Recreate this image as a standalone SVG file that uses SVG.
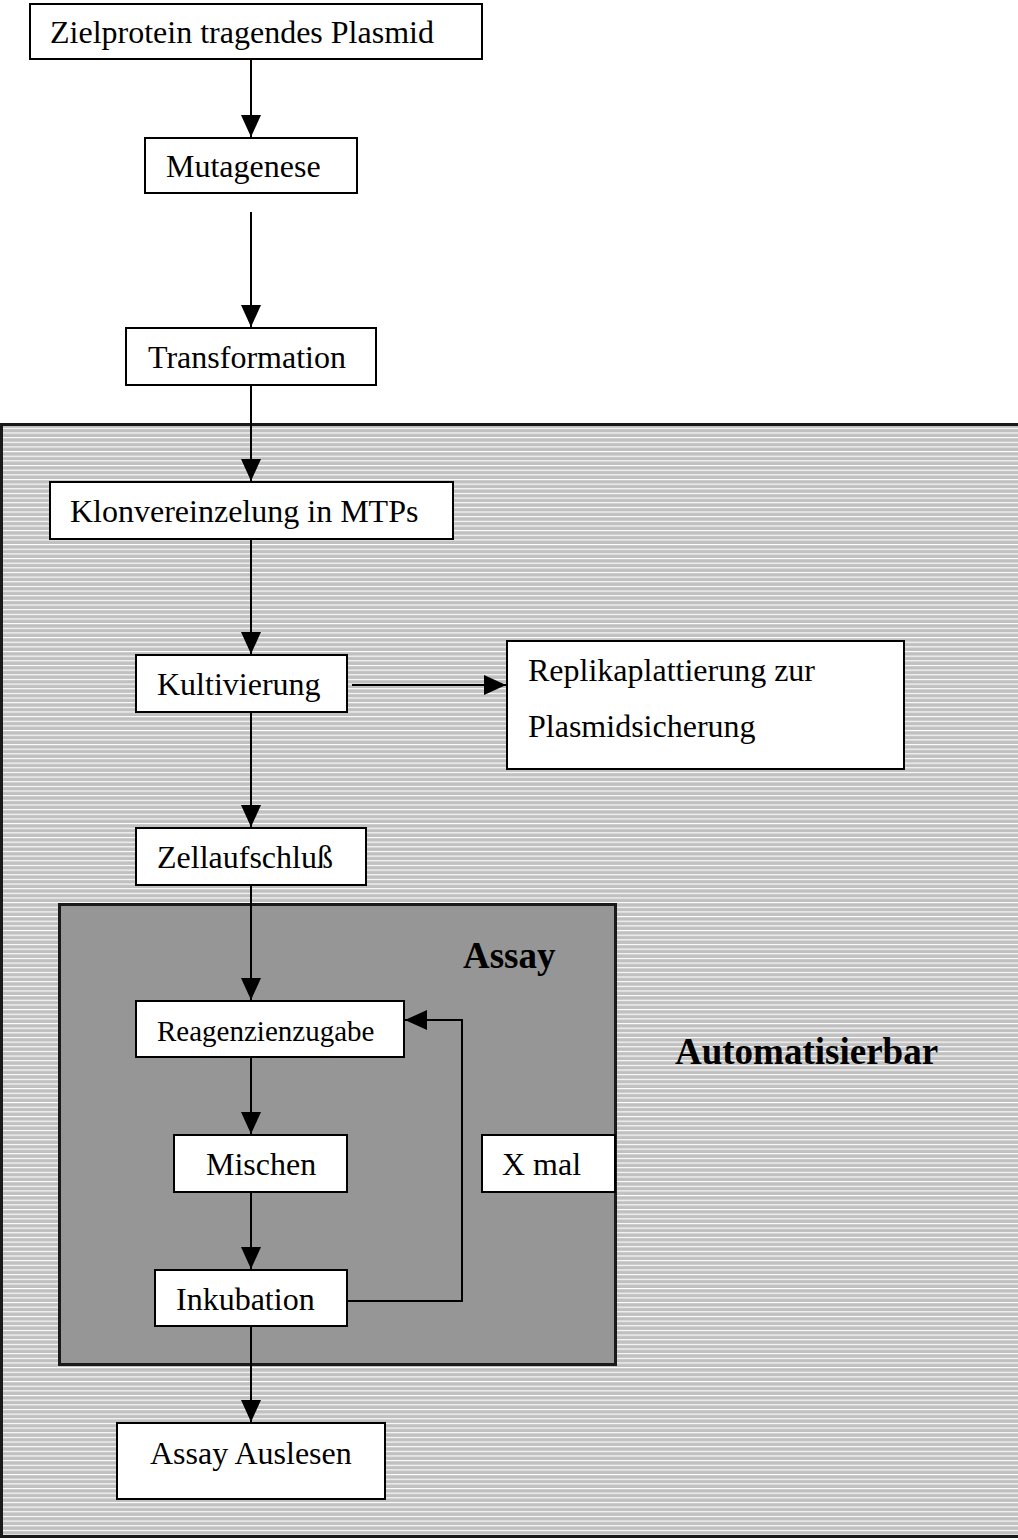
<svg xmlns="http://www.w3.org/2000/svg" width="1018" height="1540" viewBox="0 0 1018 1540">
<defs>
<pattern id="stripes" patternUnits="userSpaceOnUse" x="0" y="425" width="10" height="4.65">
<rect x="0" y="0" width="10" height="4.65" fill="#c0c0c0"/>
<rect x="0" y="2.8" width="10" height="1.1" fill="#ffffff"/>
</pattern>
<marker id="ah" markerUnits="userSpaceOnUse" markerWidth="22" markerHeight="22" viewBox="0 0 22 22" refX="22" refY="11" orient="auto">
<polygon points="0,1 22,11 0,21" fill="#000"/>
</marker>
<style>
.box{fill:#fff;stroke:#000;stroke-width:2}
.t{font-family:"Liberation Serif","Times New Roman",serif;font-size:32px;fill:#000}
.b{font-family:"Liberation Serif","Times New Roman",serif;font-size:37px;font-weight:bold;fill:#000}
.c{fill:none;stroke:#000;stroke-width:2}
</style>
</defs>
<rect id="automatisierbar-bg" x="1.5" y="424.5" width="1030" height="1112" fill="url(#stripes)" stroke="#1a1a1a" stroke-width="3"/>
<rect id="assay-bg" x="59.5" y="904.5" width="556" height="460" fill="#969696" stroke="#1a1a1a" stroke-width="3"/>
<g id="n1"><rect class="box" x="30" y="4" width="452" height="55"/><text class="t" x="50" y="43">Zielprotein tragendes Plasmid</text></g>
<g id="n2"><rect class="box" x="145" y="138" width="212" height="55"/><text class="t" x="166" y="177">Mutagenese</text></g>
<g id="n3"><rect class="box" x="126" y="328" width="250" height="57"/><text class="t" x="148" y="368">Transformation</text></g>
<g id="n4"><rect class="box" x="50" y="482" width="403" height="57"/><text class="t" x="70" y="522">Klonvereinzelung in MTPs</text></g>
<g id="n5"><rect class="box" x="136" y="655" width="211" height="57"/><text class="t" x="157" y="695">Kultivierung</text></g>
<g id="n6"><rect class="box" x="507" y="641" width="397" height="128"/><text class="t" x="528" y="681">Replikaplattierung zur</text><text class="t" x="528" y="737">Plasmidsicherung</text></g>
<g id="n7"><rect class="box" x="136" y="828" width="230" height="57"/><text class="t" x="157" y="868">Zellaufschluß</text></g>
<g id="assay-label"><text class="b" x="463" y="968">Assay</text></g>
<g id="auto-label"><text class="b" x="675" y="1064">Automatisierbar</text></g>
<g id="n8"><rect class="box" x="136" y="1001" width="268" height="56"/><text class="t" x="157" y="1041" style="font-size:29px">Reagenzienzugabe</text></g>
<g id="n9"><rect class="box" x="174" y="1135" width="173" height="57"/><text class="t" x="206" y="1175">Mischen</text></g>
<g id="n10"><rect class="box" x="155" y="1270" width="192" height="56"/><text class="t" x="176" y="1310">Inkubation</text></g>
<g id="n11"><rect class="box" x="482" y="1135" width="133" height="57"/><text class="t" x="502" y="1175">X mal</text></g>
<g id="n12"><rect class="box" x="117" y="1423" width="268" height="76"/><text class="t" x="150" y="1464">Assay Auslesen</text></g>
<g id="connectors">
<line class="c" x1="251" y1="59" x2="251" y2="137" marker-end="url(#ah)"/>
<line class="c" x1="251" y1="212" x2="251" y2="327" marker-end="url(#ah)"/>
<line class="c" x1="251" y1="385" x2="251" y2="481" marker-end="url(#ah)"/>
<line class="c" x1="251" y1="539" x2="251" y2="654" marker-end="url(#ah)"/>
<line class="c" x1="352" y1="685" x2="506" y2="685" marker-end="url(#ah)"/>
<line class="c" x1="251" y1="712" x2="251" y2="827" marker-end="url(#ah)"/>
<line class="c" x1="251" y1="885" x2="251" y2="1000" marker-end="url(#ah)"/>
<line class="c" x1="251" y1="1057" x2="251" y2="1134" marker-end="url(#ah)"/>
<line class="c" x1="251" y1="1192" x2="251" y2="1269" marker-end="url(#ah)"/>
<line class="c" x1="251" y1="1326" x2="251" y2="1422" marker-end="url(#ah)"/>
<polyline class="c" points="347,1301 462,1301 462,1020 405,1020" marker-end="url(#ah)"/>
</g>
</svg>
